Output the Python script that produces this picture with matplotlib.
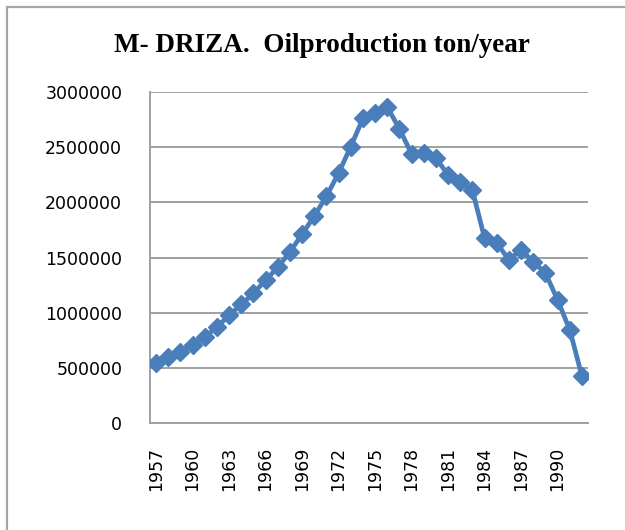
import matplotlib
matplotlib.use("Agg")
import matplotlib.pyplot as plt
from matplotlib.patches import Rectangle

# oil production per year
years = list(range(1957, 1993))
production = [545000, 600000, 645000, 705000, 780000, 870000, 975000, 1075000,
              1175000, 1295000, 1410000, 1550000, 1710000, 1875000, 2055000,
              2265000, 2505000, 2760000, 2810000, 2865000, 2665000, 2440000,
              2445000, 2400000, 2250000, 2185000, 2110000, 1675000, 1630000,
              1480000, 1570000, 1460000, 1360000, 1115000, 845000, 425000]
y_ticks = [0, 500000, 1000000, 1500000, 2000000, 2500000, 3000000]
title = "M- DRIZA.  Oilproduction ton/year"

fig = plt.figure(figsize=(6.25, 5.3), dpi=100)
ax = fig.add_axes([0.24, 0.2019, 0.7008, 0.6245])

# outer chart frame (only left and top edges are visible)
fig.patches.append(Rectangle((7 / 625, -0.1), 1.2, 1 - 7 / 530 + 0.1,
                             transform=fig.transFigure, fill=False,
                             edgecolor="#a6a6a6", linewidth=1.6))

idx = list(range(len(years)))
ax.plot(idx, production, color="#4a7ebb", linewidth=3.4, marker="D",
        markersize=9.5, markeredgecolor="#4a7ebb", zorder=3)

ax.set_xlim(-0.5, len(years) - 0.5)
ax.set_ylim(0, 3000000)
ax.set_yticks(y_ticks)
ax.set_yticklabels([str(v) for v in y_ticks], fontsize=12.5, family="DejaVu Sans")
ax.set_xticks(idx[::3])
ax.set_xticklabels([str(y) for y in years[::3]], rotation=90, fontsize=12.5,
                   family="DejaVu Sans")
ax.tick_params(axis="y", length=0, pad=20)
ax.tick_params(axis="x", length=0, pad=17)

ax.grid(axis="y", color="#a0a0a0", linewidth=1.4)
ax.set_axisbelow(True)
for side in ["top", "right"]:
    ax.spines[side].set_visible(False)
for side in ["left", "bottom"]:
    ax.spines[side].set_color("#a0a0a0")
    ax.spines[side].set_linewidth(1.4)

fig.text(0.515, 0.915, title, ha="center", va="center", fontsize=19.5,
         fontweight="bold", family="Liberation Serif")

fig.savefig("out.png", dpi=100)
